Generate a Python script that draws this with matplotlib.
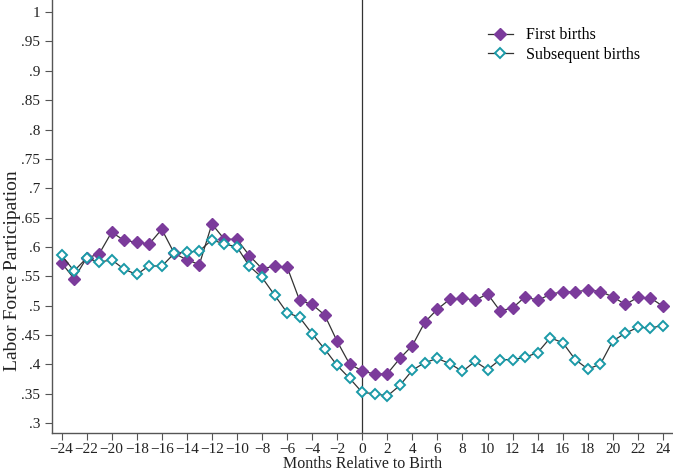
import numpy as np
import matplotlib
matplotlib.use("Agg")
import matplotlib.pyplot as plt

# months relative to birth
months = list(range(-24, 25))

first_births = [0.573, 0.546, 0.581, 0.588, 0.625, 0.611, 0.608, 0.605, 0.630, 0.589,
                0.578, 0.570, 0.639, 0.613, 0.613, 0.585, 0.563, 0.567, 0.566, 0.509,
                0.502, 0.484, 0.439, 0.400, 0.389, 0.383, 0.384, 0.410, 0.432, 0.472,
                0.494, 0.511, 0.513, 0.509, 0.520, 0.491, 0.496, 0.515, 0.509, 0.519,
                0.524, 0.523, 0.527, 0.524, 0.515, 0.502, 0.514, 0.513, 0.499]

subsequent_births = [0.586, 0.559, 0.581, 0.574, 0.578, 0.562, 0.553, 0.568, 0.567, 0.589,
                     0.591, 0.593, 0.612, 0.605, 0.600, 0.567, 0.548, 0.518, 0.488, 0.480,
                     0.452, 0.426, 0.398, 0.376, 0.352, 0.350, 0.346, 0.364, 0.390, 0.403,
                     0.410, 0.401, 0.388, 0.405, 0.391, 0.408, 0.408, 0.412, 0.420, 0.445,
                     0.437, 0.408, 0.392, 0.400, 0.440, 0.453, 0.463, 0.462, 0.466]

yticks = [0.3, 0.35, 0.4, 0.45, 0.5, 0.55, 0.6, 0.65, 0.7, 0.75, 0.8, 0.85, 0.9, 0.95, 1.0]
ytick_labels = [".3", ".35", ".4", ".45", ".5", ".55", ".6", ".65", ".7", ".75",
                ".8", ".85", ".9", ".95", "1"]
xticks = list(range(-24, 25, 2))

plt.rcParams['font.family'] = ['Liberation Serif', 'DejaVu Serif']

purple = "#7b3b9b"
teal = "#1a9aa8"
grey = "#555555"

fig = plt.figure(figsize=(6.73, 4.73), dpi=100)
ax = fig.add_axes([52 / 673, 40 / 473, 621 / 673, 433 / 473])

ax.axvline(0, color="#333333", lw=0.9, zorder=1)

ax.plot(months, first_births, color="#333333", lw=0.9, marker="D", ms=6.5,
        mfc=purple, mec=purple, label="First births", zorder=3)
ax.plot(months, subsequent_births, color="#333333", lw=0.9, marker="D", ms=5.5,
        mfc="white", mec=teal, mew=1.4, label="Subsequent births", zorder=3)

ax.set_xlim(-24.76, 24.8)
ax.set_ylim(0.283, 1.0206)
ax.set_xticks(xticks)
ax.set_xticklabels([str(t).replace("-", "\u2212") for t in xticks])
ax.set_yticks(yticks)
ax.set_yticklabels(ytick_labels)

for s in ["top", "right"]:
    ax.spines[s].set_visible(False)
for s in ["left", "bottom"]:
    ax.spines[s].set_color(grey)
    ax.spines[s].set_linewidth(1.0)
ax.tick_params(axis="both", colors=grey, length=5, width=0.8, labelsize=11,
               labelcolor="#222222")
ax.tick_params(axis="x", pad=2.5)

ax.set_xlabel("Months Relative to Birth", fontsize=11.5, color="#222222", labelpad=0)
ax.set_ylabel("Labor Force Participation", fontsize=14, color="#222222")
ax.yaxis.set_label_coords(-0.05, 0.374)

leg = ax.legend(loc="upper right", bbox_to_anchor=(0.97, 0.97), frameon=False,
                fontsize=11.5, handlelength=1.6, handletextpad=0.8, labelspacing=0.2)

fig.savefig("out.png", dpi=100)
